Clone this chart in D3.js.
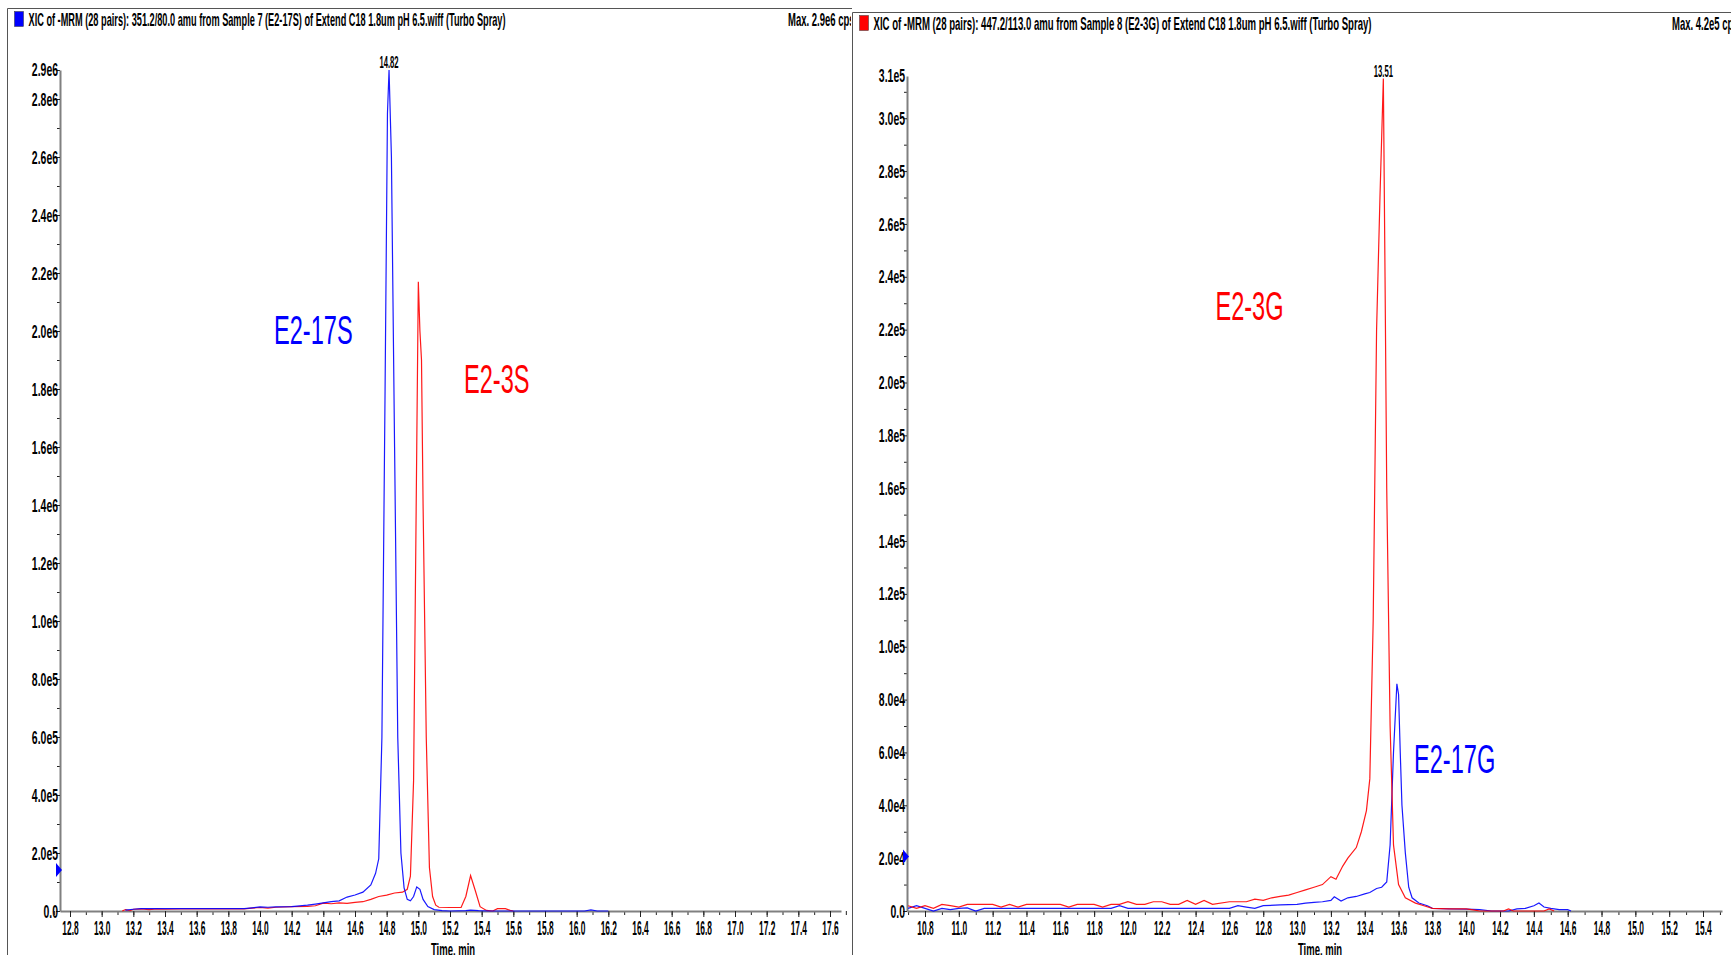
<!DOCTYPE html>
<html>
<head>
<meta charset="utf-8">
<script src="https://cdn.jsdelivr.net/npm/d3@7"></script>
<style>
body { margin: 0; background: #fff; overflow: hidden; }
svg { display: block; font-family: "Liberation Sans", Arial, sans-serif; }
</style>
</head>
<body>
<div id="vis"></div>
<script>
var w = 1731;
var h = 955;

// left window: 351.2/80.0 (E2-17S, blue) and E2-3S (red), [time min, cps]
var e217s = [[13.15, 3e3], [13.2, 6e3], [13.25, 8e3], [13.3, 8e3], [13.4, 8e3], [13.5, 8e3], [13.6, 8e3],
	[13.7, 8e3], [13.8, 8e3], [13.9, 8e3], [13.95, 1.1e4], [14.0, 1.4e4], [14.05, 1.3e4], [14.1, 1.4e4],
	[14.2, 1.5e4], [14.25, 1.8e4], [14.3, 2.0e4], [14.35, 2.4e4], [14.4, 2.8e4], [14.45, 3.2e4], [14.5, 3.5e4],
	[14.55, 4.8e4], [14.6, 5.5e4], [14.65, 6.5e4], [14.7, 9e4], [14.73, 1.3e5], [14.75, 1.8e5], [14.77, 6e5],
	[14.79, 1.8e6], [14.805, 2.75e6], [14.815, 2.9e6], [14.83, 2.6e6], [14.85, 1.6e6], [14.87, 6e5], [14.89, 2e5],
	[14.91, 8e4], [14.93, 4e4], [14.95, 3.5e4], [14.97, 5e4], [14.99, 8.3e4], [15.01, 7.5e4], [15.03, 4e4],
	[15.06, 1.5e4], [15.1, 5e3], [15.15, 1e3], [15.2, 0], [15.3, 1e3], [15.33, 3e3], [15.38, 1e3], [15.45, 0],
	[16.05, 0], [16.09, 4e3], [16.13, 0], [16.2, 0]];
var e23s = [[13.13, 0], [13.15, 5e3], [13.18, 1e3], [13.2, 6e3], [13.25, 7e3], [13.3, 5e3], [13.35, 7e3],
	[13.4, 6e3], [13.5, 7e3], [13.6, 7e3], [13.7, 7e3], [13.8, 7e3], [13.9, 7e3], [13.95, 1e4], [14.0, 1.2e4],
	[14.05, 1.0e4], [14.1, 1.3e4], [14.2, 1.5e4], [14.3, 1.6e4], [14.35, 1.8e4], [14.4, 2.7e4], [14.45, 2.5e4],
	[14.5, 2.8e4], [14.55, 2.6e4], [14.6, 3.0e4], [14.65, 3.2e4], [14.7, 4.0e4], [14.75, 5.0e4], [14.8, 5.5e4],
	[14.85, 6.2e4], [14.9, 6.5e4], [14.93, 7.5e4], [14.95, 1.2e5], [14.97, 4.5e5], [14.99, 1.6e6], [15.0, 2.17e6],
	[15.01, 2.0e6], [15.02, 1.9e6], [15.03, 1.4e6], [15.05, 6e5], [15.07, 1.5e5], [15.09, 5e4], [15.11, 2e4],
	[15.13, 1.3e4], [15.2, 1.2e4], [15.27, 1.2e4], [15.3, 5e4], [15.33, 1.22e5], [15.36, 7e4], [15.39, 1.5e4],
	[15.43, 2e3], [15.47, 0], [15.5, 8e3], [15.55, 8e3], [15.58, 2e3], [15.6, 0]];

// right window: 447.2/113.0 (E2-3G, red) and E2-17G (blue)
var e23g = [[10.7, 2e3], [10.75, 1e3], [10.8, 2e3], [10.85, 1e3], [10.9, 2.5e3], [10.95, 2e3], [11.0, 1.5e3],
	[11.05, 2.5e3], [11.1, 2.5e3], [11.2, 2.5e3], [11.25, 1.5e3], [11.3, 2.5e3], [11.35, 1.5e3], [11.4, 2.5e3],
	[11.5, 2.5e3], [11.6, 2.5e3], [11.65, 1.5e3], [11.7, 2.5e3], [11.8, 2.5e3], [11.85, 1.5e3], [11.9, 2.5e3],
	[11.95, 2.5e3], [12.0, 3.5e3], [12.05, 2.5e3], [12.1, 2.5e3], [12.15, 3.5e3], [12.2, 3.5e3], [12.25, 2.5e3],
	[12.3, 2.5e3], [12.35, 4e3], [12.4, 2.5e3], [12.45, 4e3], [12.5, 2.5e3], [12.6, 3.5e3], [12.7, 3.5e3],
	[12.75, 4.5e3], [12.8, 4e3], [12.85, 5e3], [12.9, 5.5e3], [12.95, 6e3], [13.0, 7e3], [13.05, 8e3],
	[13.1, 9e3], [13.15, 1.0e4], [13.2, 1.3e4], [13.23, 1.2e4], [13.27, 1.7e4], [13.3, 2.0e4], [13.35, 2.4e4],
	[13.38, 3.0e4], [13.41, 3.8e4], [13.43, 5e4], [13.45, 1.1e5], [13.47, 2.2e5], [13.49, 2.7e5], [13.51, 3.15e5],
	[13.52, 2.4e5], [13.53, 1.6e5], [13.55, 7e4], [13.57, 2.5e4], [13.6, 1.0e4], [13.64, 5e3], [13.7, 3e3],
	[13.75, 2e3], [13.8, 1e3], [13.9, 8e2], [14.0, 8e2], [14.05, 3e2], [14.08, 0], [14.22, 0], [14.25, 8e2],
	[14.28, 0], [14.46, 0], [14.49, 8e2], [14.52, 0]];
var e217g = [[10.7, 1e3], [10.75, 2e3], [10.8, 1e3], [10.85, 0], [10.9, 1e3], [10.95, 5e2], [11.0, 1e3],
	[11.05, 1.2e3], [11.1, 0], [11.15, 1e3], [11.3, 1e3], [11.5, 1e3], [11.7, 1e3], [11.9, 1e3], [11.95, 2e3],
	[12.0, 1e3], [12.3, 1e3], [12.6, 1e3], [12.65, 2e3], [12.7, 1.5e3], [12.75, 1e3], [12.8, 2e3], [12.9, 2.3e3],
	[13.0, 2.5e3], [13.05, 3e3], [13.1, 3.3e3], [13.15, 3.5e3], [13.2, 4e3], [13.22, 5.4e3], [13.26, 3.8e3],
	[13.3, 5e3], [13.35, 5.5e3], [13.4, 6.5e3], [13.43, 7e3], [13.47, 8.5e3], [13.5, 9e3], [13.53, 1.1e4],
	[13.55, 2.5e4], [13.57, 6e4], [13.59, 8.6e4], [13.6, 8.2e4], [13.61, 6e4], [13.62, 4e4], [13.64, 2.2e4],
	[13.66, 9e3], [13.68, 5e3], [13.72, 3e3], [13.77, 2e3], [13.8, 1e3], [13.9, 8e2], [14.0, 7e2], [14.08, 5e2],
	[14.15, 0], [14.25, 0], [14.3, 8e2], [14.35, 1e3], [14.4, 2e3], [14.43, 3e3], [14.46, 1.5e3], [14.5, 1e3],
	[14.55, 5e2], [14.6, 5e2], [14.62, 0]];

// ticks
var leftXTicks = [12.8, 13.0, 13.2, 13.4, 13.6, 13.8, 14.0, 14.2, 14.4, 14.6, 14.8, 15.0, 15.2, 15.4, 15.6,
	15.8, 16.0, 16.2, 16.4, 16.6, 16.8, 17.0, 17.2, 17.4, 17.6];
var rightXTicks = [10.8, 11.0, 11.2, 11.4, 11.6, 11.8, 12.0, 12.2, 12.4, 12.6, 12.8, 13.0, 13.2, 13.4, 13.6,
	13.8, 14.0, 14.2, 14.4, 14.6, 14.8, 15.0, 15.2, 15.4];
var leftYTicks = [0, 2e5, 4e5, 6e5, 8e5, 1.0e6, 1.2e6, 1.4e6, 1.6e6, 1.8e6, 2.0e6, 2.2e6, 2.4e6, 2.6e6, 2.8e6];
var rightYTicks = [0, 2e4, 4e4, 6e4, 8e4, 1.0e5, 1.2e5, 1.4e5, 1.6e5, 1.8e5, 2.0e5, 2.2e5, 2.4e5, 2.6e5, 2.8e5, 3.0e5];
var leftYTop = "2.9e6";
var rightYTop = "3.1e5";

// titles, peak apex labels, compound labels
var leftTitle = "XIC of -MRM (28 pairs): 351.2/80.0 amu from Sample 7 (E2-17S) of Extend C18 1.8um pH 6.5.wiff (Turbo Spray)";
var rightTitle = "XIC of -MRM (28 pairs): 447.2/113.0 amu from Sample 8 (E2-3G) of Extend C18 1.8um pH 6.5.wiff (Turbo Spray)";
var leftMax = "Max. 2.9e6 cps.";
var rightMax = "Max. 4.2e5 cps.";
var leftApex = "14.82";
var rightApex = "13.51";
var leftNames = [{name: "E2-17S", t: 14.088, v: 1.955e6, c: "#0000ff"}, {name: "E2-3S", t: 15.288, v: 1.786e6, c: "#ff0000"}];
var rightNames = [{name: "E2-3G", t: 12.517, v: 2.237e5, c: "#ff0000"}, {name: "E2-17G", t: 13.691, v: 5.22e4, c: "#0000ff"}];
var leftMarker = [1.41e5];
var rightMarker = [2.06e4];

var svg = d3.select("#vis")
	.append("svg")
	.attr("width", w)
	.attr("height", h);

var defs = svg.append("defs");
defs.append("clipPath").attr("id", "clipL").append("rect")
	.attr("x", 8).attr("y", 9).attr("width", 843).attr("height", h);
defs.append("clipPath").attr("id", "clipR").append("rect")
	.attr("x", 853).attr("y", 13).attr("width", w - 853).attr("height", h);

function sci(v) {
	if (v === 0) return "0.0";
	return d3.format(".1e")(v).replace("e+", "e");
}

// squeeze text horizontally, the original font is very narrow
function squeeze(sel, f) {
	sel.each(function() {
		var n = this.getComputedTextLength();
		d3.select(this).attr("textLength", n * f).attr("lengthAdjust", "spacingAndGlyphs");
	});
}

function drawPanel(p) {
	var g = svg.append("g").attr("clip-path", "url(#" + p.clip + ")");

	var x = d3.scaleLinear().domain(p.xRef).range(p.xPix);
	x.domain([x.invert(p.x0), x.invert(p.x1)]).range([p.x0, p.x1]);
	var y = d3.scaleLinear().domain([0, p.yRef]).range([p.y0, p.yRefPix]);
	y.domain([0, y.invert(p.yTop)]).range([p.y0, p.yTop]);

	// header
	g.append("rect")
		.attr("x", p.boxX + 7).attr("y", p.boxY + 3)
		.attr("width", 9).attr("height", 15)
		.attr("fill", p.keyColor)
		.attr("stroke", "#333").attr("stroke-width", 0.5);
	g.append("text")
		.text(p.title)
		.attr("x", p.boxX + 21).attr("y", p.boxY + 17)
		.attr("textLength", p.titleW).attr("lengthAdjust", "spacingAndGlyphs")
		.style("font-size", "19px").style("font-weight", "bold");
	var t2 = g.append("text")
		.text(p.max)
		.attr("x", p.maxX).attr("y", p.boxY + 17)
		.style("font-size", "19px").style("font-weight", "bold");
	squeeze(t2, 0.5);

	// minor ticks
	g.append("g")
		.attr("transform", "translate(0," + p.y0 + ")")
		.call(d3.axisBottom(x).tickValues(d3.range(p.xTicks[0] - 0.1, p.xTicks[p.xTicks.length - 1] + 0.15, 0.1)).tickSize(4).tickFormat(""))
		.call(function(a) { a.select(".domain").remove(); a.selectAll("line").attr("stroke", "#222"); });
	var yStep = p.yTicks[1] / 2;
	g.append("g")
		.attr("transform", "translate(" + p.x0 + ",0)")
		.call(d3.axisLeft(y).tickValues(d3.range(yStep, y.domain()[1], yStep * 2)).tickSize(3).tickFormat(""))
		.call(function(a) { a.select(".domain").remove(); a.selectAll("line").attr("stroke", "#222"); });

	// major ticks and labels
	var xa = g.append("g")
		.attr("transform", "translate(0," + p.y0 + ")")
		.call(d3.axisBottom(x).tickValues(p.xTicks).tickSize(6).tickSizeOuter(0).tickFormat(d3.format(".1f")));
	xa.select(".domain").attr("stroke", "#808080").attr("stroke-width", 2);
	xa.selectAll("line").attr("stroke", "#222");
	xa.selectAll("text").attr("fill", "#000").style("font-size", "20px").style("font-weight", "bold")
		.style("font-family", "Liberation Sans, Arial").attr("y", 6).attr("dy", "0.92em");
	squeeze(xa.selectAll("text"), 0.42);

	var ya = g.append("g")
		.attr("transform", "translate(" + p.x0 + ",0)")
		.call(d3.axisLeft(y).tickValues(p.yTicks).tickSize(4).tickSizeOuter(0).tickFormat(sci));
	ya.select(".domain").attr("stroke", "#808080").attr("stroke-width", 2);
	ya.selectAll("line").attr("stroke", "#222");
	ya.selectAll("text").attr("fill", "#000").style("font-size", "19px").style("font-weight", "bold")
		.style("font-family", "Liberation Sans, Arial").attr("x", -2);
	squeeze(ya.selectAll("text"), 0.55);
	var top = ya.append("text")
		.text(p.yTopLabel)
		.attr("x", -2).attr("y", y.range()[1]).attr("dy", "0.32em")
		.attr("text-anchor", "end").attr("fill", "#000")
		.style("font-size", "19px").style("font-weight", "bold").style("font-family", "Liberation Sans, Arial");
	squeeze(top, 0.55);

	var xl = g.append("text")
		.text("Time, min")
		.attr("x", p.timeX).attr("y", p.y0 + 45)
		.attr("text-anchor", "middle")
		.style("font-size", "19px").style("font-weight", "bold");
	squeeze(xl, 0.5);

	// traces
	var line = d3.line()
		.x(function(d) { return x(d[0]); })
		.y(function(d) { return y(d[1]); });
	p.series.forEach(function(s) {
		g.append("path")
			.datum(s.data)
			.attr("d", line)
			.attr("fill", "none")
			.attr("stroke", s.color)
			.attr("stroke-width", 1.2)
			.attr("stroke-opacity", 0.9);
	});

	// apex label of the tallest trace
	var apex = d3.greatest(p.series[p.apexSeries].data, function(d) { return d[1]; });
	var al = g.append("text")
		.text(p.apex)
		.attr("x", x(apex[0])).attr("y", y(apex[1]) - 2)
		.attr("text-anchor", "middle")
		.style("font-size", "17px").style("font-weight", "bold");
	squeeze(al, 0.45);

	// compound names
	p.names.forEach(function(n) {
		var t = g.append("text")
			.text(n.name)
			.attr("x", x(n.t)).attr("y", y(n.v))
			.attr("fill", n.c)
			.style("font-size", "40px");
		squeeze(t, 0.59);
	});

	// threshold marker on the y axis
	p.marker.forEach(function(m) {
		var my = y(m);
		g.append("path")
			.attr("d", "M" + (p.x0 - 4) + "," + (my - 7) + "L" + (p.x0 + 2) + "," + my + "L" + (p.x0 - 4) + "," + (my + 7) + "Z")
			.attr("fill", "#0000ff");
	});

	// frame
	svg.append("path")
		.attr("d", "M" + p.boxX + "," + h + "V" + p.boxY + "H" + p.boxX2)
		.attr("fill", "none")
		.attr("stroke", "#555")
		.attr("stroke-width", 1);
}

drawPanel({
	clip: "clipL", boxX: 7.5, boxY: 8.5, boxX2: 852, keyColor: "#0000ff",
	title: leftTitle, titleW: 477, max: leftMax, maxX: 788,
	xRef: [12.8, 17.6], xPix: [70, 830], x0: 60, x1: 841,
	yRef: 2.8e6, y0: 911, yRefPix: 99, yTop: 70,
	xTicks: leftXTicks, yTicks: leftYTicks, yTopLabel: leftYTop,
	timeX: 453,
	series: [{data: e23s, color: "#ff0000"}, {data: e217s, color: "#0000ff"}],
	apexSeries: 1, apex: leftApex, names: leftNames, marker: leftMarker
});

drawPanel({
	clip: "clipR", boxX: 852.5, boxY: 12.5, boxX2: w, keyColor: "#ff0000",
	title: rightTitle, titleW: 498, max: rightMax, maxX: 1672,
	xRef: [10.8, 15.4], xPix: [925, 1703], x0: 907, x1: 1722,
	yRef: 3.0e5, y0: 911, yRefPix: 118.25, yTop: 76,
	xTicks: rightXTicks, yTicks: rightYTicks, yTopLabel: rightYTop,
	timeX: 1320,
	series: [{data: e217g, color: "#0000ff"}, {data: e23g, color: "#ff0000"}],
	apexSeries: 1, apex: rightApex, names: rightNames, marker: rightMarker
});
</script>
</body>
</html>
